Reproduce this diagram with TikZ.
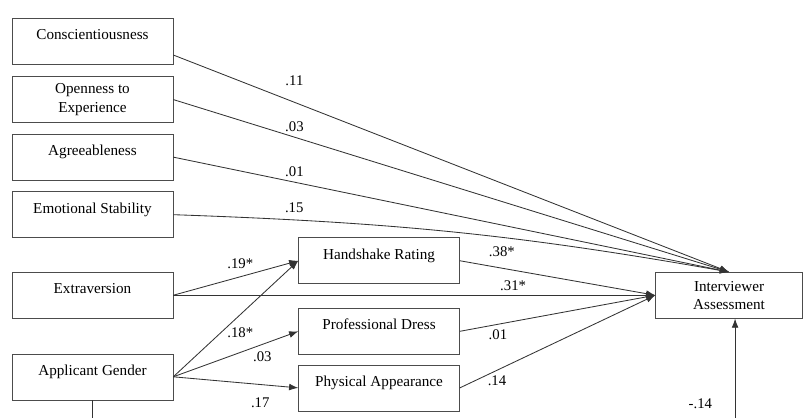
\documentclass[tikz,border=0pt]{standalone}
\usepackage{fontspec}
\setmainfont{Liberation Serif}
\usetikzlibrary{arrows.meta, positioning}
\tikzset{
  box/.style    = {draw=black!70, rectangle, minimum width=4.025cm, minimum height=1.15cm, align=center, inner sep=2pt},
  onebox/.style = {box, text height=7pt, text depth=9pt},
  path/.style   = {-{Latex[length=2.3mm, width=1.7mm]}, draw=black!80, line width=0.6pt},
  coef/.style   = {font=\fontsize{10.5}{12}\selectfont, inner sep=1pt},
}
\begin{document}
\begin{tikzpicture}[node distance=0.3cm, every node/.style={font=\fontsize{10.8}{13}\selectfont, text=black}]
    \useasboundingbox (0,0) rectangle (20.1,-10.425);
    % personality traits
    \node (con) [onebox] at (2.3125,-1.025) {Conscientiousness};
    \node (ope) [box, below=of con] {Openness to\\Experience};
    \node (agr) [onebox, below=0.275cm of ope] {Agreeableness};
    \node (emo) [onebox, below=0.275cm of agr] {Emotional Stability};
    \node (ext) [onebox, below=0.85cm of emo] {Extraversion};
    \node (gen) [onebox, below=0.875cm of ext] {Applicant Gender};
    % mediators
    \node (hs)  [onebox, right=3.125cm of ext, yshift=0.8625cm] {Handshake Rating};
    \node (pd)  [onebox, below=0.6cm of hs] {Professional Dress};
    \node (pa)  [onebox, below=0.25cm of pd] {Physical Appearance};
    % outcome
    \node (ia)  [box, minimum width=3.675cm, right=12.05cm of ext] {Interviewer\\Assessment};

    \draw [path] ([yshift=-0.35cm]con.east) -- node[coef, pos=0.218, yshift=0.55cm]{.11} (ia.north);
    \draw [path] (ope.east) -- node[coef, pos=0.218, yshift=0.27cm]{.03} (ia.north);
    \draw [path] (agr.east) -- node[coef, pos=0.218, yshift=0.26cm]{.01} (ia.north);
    \draw [path] (emo.east) to[out=-2, in=170] node[coef, pos=0.2, yshift=0.3cm]{.15} (ia.north);

    \draw [path] (ext.east) -- node[coef, pos=0.536, yshift=0.33cm]{.19*} (hs.west);
    \draw [path] (ext.east) -- node[coef, pos=0.705, yshift=0.23cm]{.31*} (ia.west);
    \draw [path] (gen.east) -- node[coef, pos=0.536, yshift=-0.45cm]{.18*} (hs.west);
    \draw [path] (gen.east) -- node[coef, pos=0.712, yshift=-0.3cm]{.03} (pd.west);
    \draw [path] (gen.east) -- node[coef, pos=0.696, yshift=-0.46cm]{.17} (pa.west);

    \draw [path] (hs.east) -- node[coef, pos=0.215, yshift=0.4cm]{.38*} (ia.west);
    \draw [path] (pd.east) -- node[coef, pos=0.195, yshift=-0.27cm]{.01} (ia.west);
    \draw [path] (pa.east) -- node[coef, pos=0.19, yshift=-0.25cm]{.14} (ia.west);

    \draw [path] (gen.south) -- ++(0,-0.55) -| node[coef, pos=0.473, yshift=0.45cm]{-.14} ([xshift=0.15cm]ia.south);
\end{tikzpicture}
\end{document}
